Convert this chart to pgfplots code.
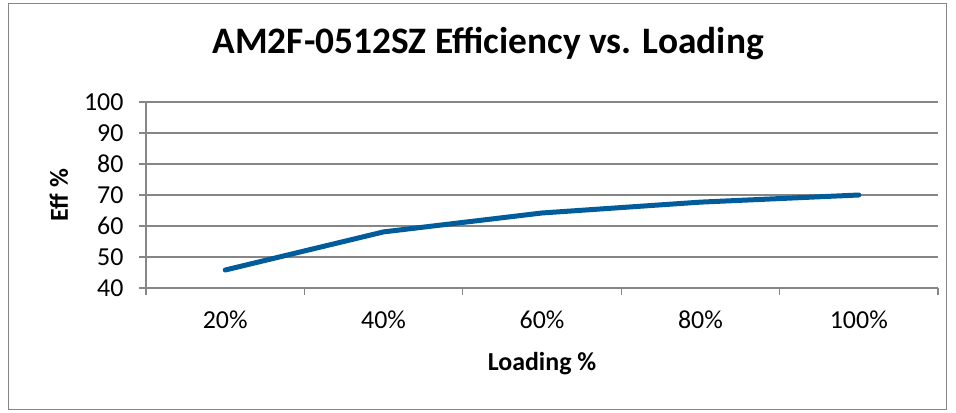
\documentclass[border=0pt]{standalone}
\usepackage{pgfplots}
\pgfplotsset{compat=1.18}
\usepackage{fontspec}
\setmainfont{Carlito}
\definecolor{linecol}{RGB}{0,92,154}
\definecolor{gridcol}{RGB}{134,134,134}
\begin{document}
\begin{tikzpicture}[x=1bp,y=1bp]
\path (0,0) rectangle (956,412);
\draw[gridcol, line width=1bp] (8.5,2.5) rectangle (946.5,408.5);
\begin{axis}[
  at={(146bp,124bp)}, anchor=south west,
  scale only axis, width=792bp, height=186bp,
  xmin=0.5, xmax=5.5, ymin=40, ymax=100,
  axis x line*=bottom, axis y line*=left,
  axis line style={gridcol, line width=1.2bp, -},
  xtick={0.5,1.5,...,5.5},
  x tick label as interval,
  xticklabels={20\%,40\%,60\%,80\%,100\%},
  ytick={40,50,...,100},
  ymajorgrids, grid style={gridcol, line width=1.5bp},
  tick align=outside, major tick length=7bp,
  tick style={gridcol, line width=1.2bp},
  /pgf/number format/assume math mode=true,
  tick label style={font=\fontsize{26}{28}\selectfont, black},
  x tick label style={yshift=-12bp},
  y tick label style={xshift=-12bp},
  title={AM2F-0512SZ Efficiency vs. Loading},
  title style={font=\fontsize{37.5}{40}\selectfont\bfseries, at={(rel axis cs:0.432,1.231)}, anchor=base},
  xlabel={Loading \%},
  xlabel style={font=\fontsize{26}{28}\selectfont\bfseries, at={(rel axis cs:0.5,-0.446)}, anchor=base},
  ylabel={Eff \%},
  ylabel style={font=\fontsize{26}{28}\selectfont\bfseries, at={(rel axis cs:-0.0985,0.5)}, anchor=base, rotate=0},
  clip=false,
]
\addplot[linecol, line width=5bp, line cap=round, line join=round] coordinates {
  (1,45.8) (2,58.1) (3,64.2) (4,67.7) (5,70.0)
};
\end{axis}
\end{tikzpicture}
\end{document}
